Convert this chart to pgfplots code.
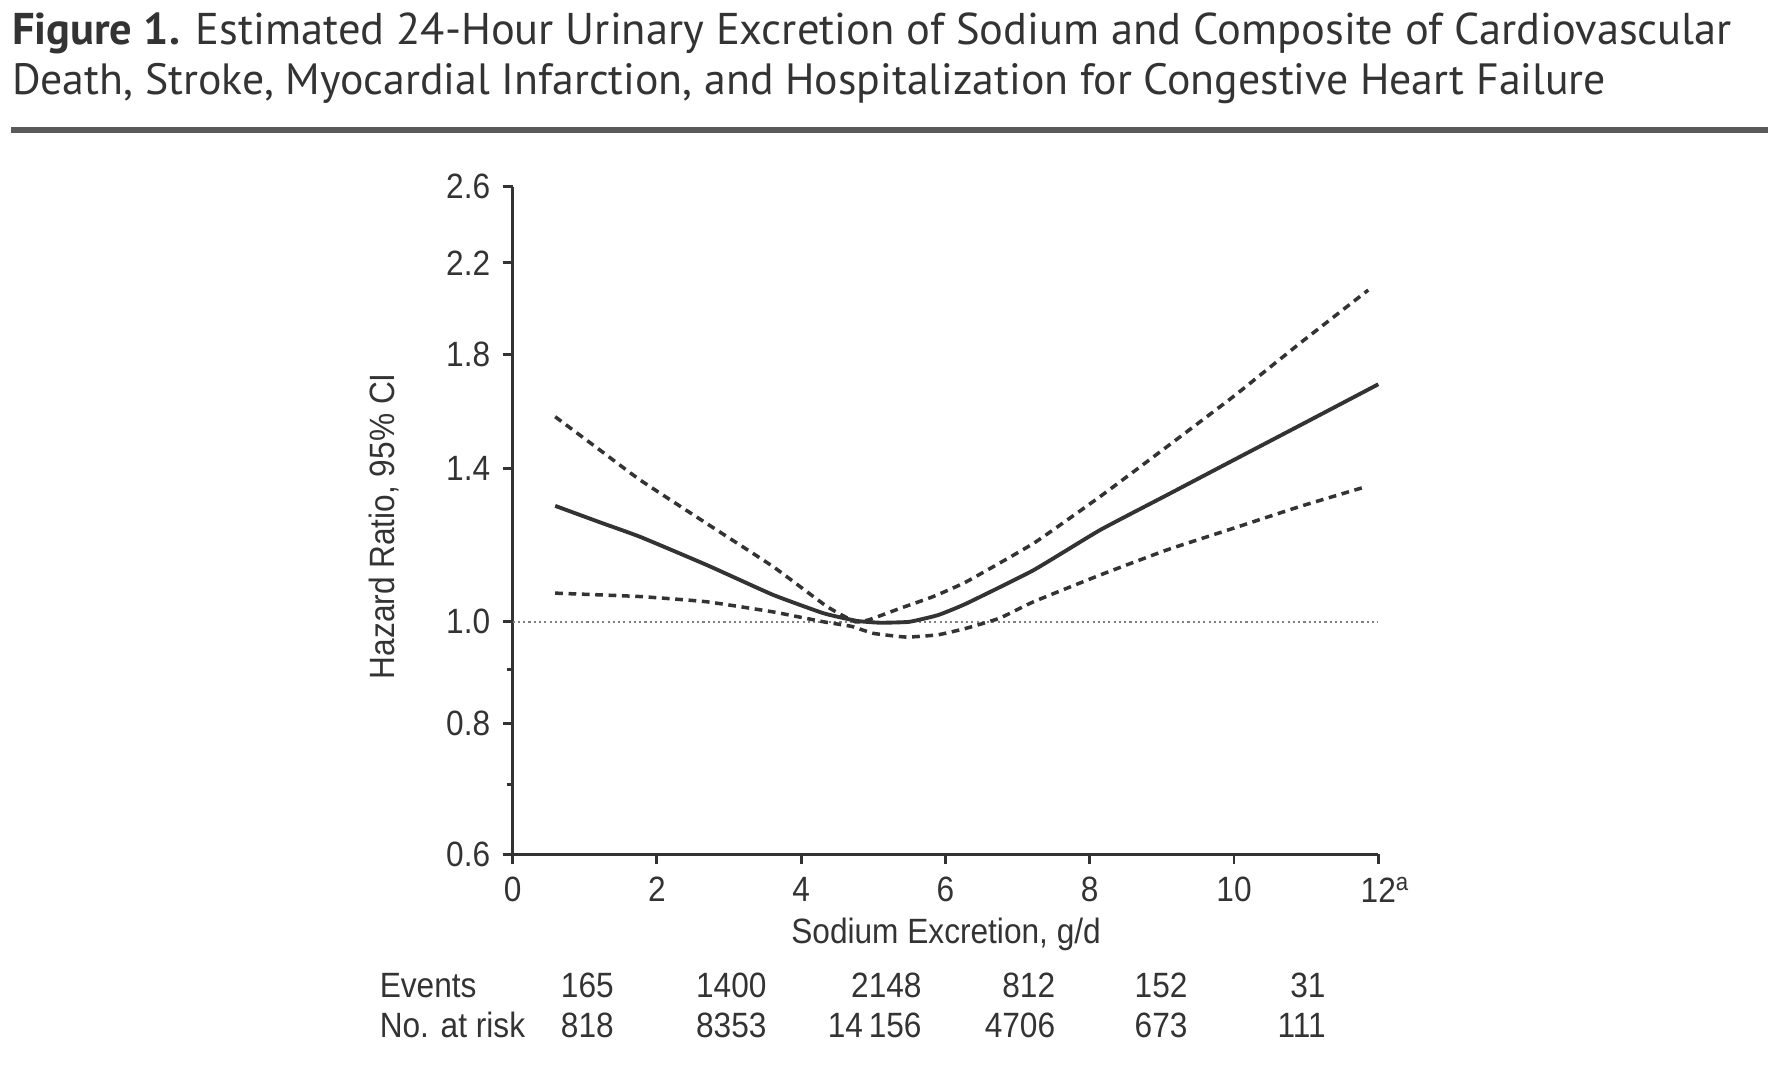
\documentclass[border=0pt]{standalone}
\usepackage{fontspec}
\setmainfont{Liberation Sans}
\newfontfamily\titlefont{PT Sans}
\newfontfamily\chartfont[FakeStretch=0.9]{Liberation Sans}
\usepackage{pgfplots}
\usepackage{pgfplotstable}
\pgfplotsset{compat=1.18}

\definecolor{ink}{HTML}{333333}
\definecolor{rulegray}{HTML}{5A5A5A}

% hazard ratio estimate
\pgfplotstableread{
x y
0.59 1.290
1.2 1.245
1.77 1.205
2.69 1.133
3.61 1.061
4.31 1.019
4.77 1.002
5.1 0.998
5.5 1.000
5.9 1.015
6.29 1.041
7.22 1.120
8.14 1.223
9.07 1.321
9.99 1.426
10.91 1.539
12.0 1.685
}\hrtab

% upper 95% limit
\pgfplotstableread{
x y
0.59 1.569
1.2 1.460
1.77 1.365
2.69 1.241
3.61 1.129
4.35 1.035
4.75 1.000
4.95 1.005
5.37 1.030
5.83 1.057
6.29 1.092
7.22 1.188
8.14 1.316
9.07 1.469
9.99 1.640
10.91 1.843
11.86 2.072
}\uptab

% lower 95% limit
\pgfplotstableread{
x y
0.59 1.065
1.77 1.057
2.69 1.045
3.61 1.022
4.31 1.000
4.7 0.990
5.0 0.975
5.46 0.967
5.9 0.972
6.29 0.986
6.75 1.008
7.22 1.045
8.14 1.108
9.07 1.171
9.99 1.228
10.91 1.288
11.82 1.345
}\lotab

\begin{document}
\begin{tikzpicture}[x=1mm,y=1mm]
\path[use as bounding box] (0,0) rectangle (177.1,-108);

% title
\node[anchor=base west, inner sep=0, text=ink] at (1.13,-4.4)
  {\resizebox{172mm}{!}{\titlefont\textbf{Figure 1.} Estimated 24-Hour Urinary Excretion of Sodium and Composite of Cardiovascular}};
\node[anchor=base west, inner sep=0, text=ink] at (1.13,-9.4)
  {\resizebox{159.4mm}{!}{\titlefont Death, Stroke, Myocardial Infarction, and Hospitalization for Congestive Heart Failure}};
\draw[rulegray, line width=0.55mm] (1.13,-13) -- (176.8,-13);

\begin{axis}[
    at={(51.26mm,-85.44mm)}, anchor=south west,
    scale only axis,
    width=86.57mm, height=66.77mm,
    xmin=0, xmax=12,
    ymin=0.6, ymax=2.6,
    ymode=log,
    clip=false,
    axis x line*=bottom,
    axis y line*=left,
    axis line style={ink, line width=0.8pt},
    xtick={0,2,4,6,8,10,12},
    xticklabels={0,2,4,6,8,10,12\rlap{\textsuperscript{a}}},
    ytick={0.6,0.8,1.0,1.4,1.8,2.2,2.6},
    yticklabels={0.6,0.8,1.0,1.4,1.8,2.2,2.6},
    minor ytick={0.7,0.9},
    tick align=outside,
    major tick length=1mm,
    minor tick length=0.6mm,
    tick style={ink, line width=0.8pt},
    ticklabel style={font=\chartfont\fontsize{10}{12}\selectfont, text=ink},
    xlabel={Sodium Excretion, g/d},
    ylabel={Hazard Ratio, 95\% CI},
    xlabel style={at={(rel axis cs:0.5007,-0.120)}, anchor=center,
        font=\chartfont\fontsize{10}{12}\selectfont, text=ink},
    ylabel style={at={(rel axis cs:-0.148,0.4915)}, anchor=center,
        font=\chartfont\fontsize{10}{12}\selectfont, text=ink},
]
    % reference line at HR = 1
    \addplot[gray, line width=0.6pt, dash pattern=on 0.6pt off 0.9pt] coordinates {(0,1) (12,1)};

    % confidence limits
    \addplot[ink, line width=1pt, dash pattern=on 2.2pt off 1.6pt, smooth, tension=0.25] table {\uptab};
    \addplot[ink, line width=1pt, dash pattern=on 2.2pt off 1.6pt, smooth, tension=0.25] table {\lotab};
    % estimate
    \addplot[ink, line width=1.1pt, smooth, tension=0.25] table {\hrtab};

    % risk table
    \begin{scope}[every node/.style={font=\chartfont\fontsize{10}{12}\selectfont, text=ink, text depth=0pt, inner sep=0pt}]
    \node[anchor=west] at (rel axis cs:-0.1542,-0.1965) {Events};
    \node[anchor=west] at (rel axis cs:-0.1542,-0.2558) {No. at risk};
    \node[anchor=east] at (rel axis cs:0.1176,-0.1965) {165};
    \node[anchor=east] at (rel axis cs:0.2941,-0.1965) {1400};
    \node[anchor=east] at (rel axis cs:0.4732,-0.1965) {2148};
    \node[anchor=east] at (rel axis cs:0.6275,-0.1965) {812};
    \node[anchor=east] at (rel axis cs:0.7804,-0.1965) {152};
    \node[anchor=east] at (rel axis cs:0.9399,-0.1965) {31};
    \node[anchor=east] at (rel axis cs:0.1176,-0.2558) {818};
    \node[anchor=east] at (rel axis cs:0.2941,-0.2558) {8353};
    \node[anchor=east] at (rel axis cs:0.4732,-0.2558) {14\,156};
    \node[anchor=east] at (rel axis cs:0.6275,-0.2558) {4706};
    \node[anchor=east] at (rel axis cs:0.7804,-0.2558) {673};
    \node[anchor=east] at (rel axis cs:0.9399,-0.2558) {111};
    \end{scope}
\end{axis}
\end{tikzpicture}
\end{document}
